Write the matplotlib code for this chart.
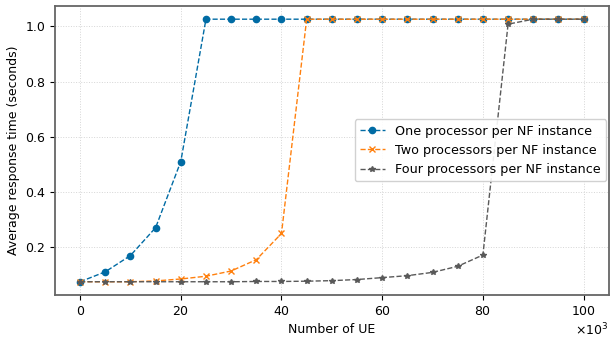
import numpy as np
import matplotlib.pyplot as plt

plt.style.use('tableau-colorblind10')
plt.rcParams['font.size'] = 9

# number of UE (in units of 1e3 after formatting)
num_ue = np.arange(0, 101, 5) * 1000

one_proc = [0.074, 0.110, 0.169, 0.270, 0.510, 1.026, 1.026, 1.026, 1.026, 1.026, 1.026,
            1.026, 1.026, 1.026, 1.026, 1.026, 1.026, 1.026, 1.026, 1.026, 1.026]
two_proc = [0.074, 0.074, 0.074, 0.077, 0.084, 0.094, 0.113, 0.154, 0.249, 1.026, 1.026,
            1.026, 1.026, 1.026, 1.026, 1.026, 1.026, 1.026, 1.026, 1.026, 1.026]
four_proc = [0.074, 0.074, 0.074, 0.074, 0.074, 0.074, 0.074, 0.075, 0.075, 0.076, 0.078,
             0.082, 0.089, 0.096, 0.108, 0.130, 0.171, 1.008, 1.026, 1.026, 1.026]

labels = ['One processor per NF instance',
          'Two processors per NF instance',
          'Four processors per NF instance']

fig, ax = plt.subplots(figsize=(6.1, 3.37), dpi=100)
fig.subplots_adjust(left=0.09, right=0.998, top=0.982, bottom=0.125)

ax.plot(num_ue, one_proc, '--o', color='#006BA4', markersize=4.5, linewidth=1, label=labels[0])
ax.plot(num_ue, two_proc, '--x', color='#FF800E', markersize=5, linewidth=1, label=labels[1])
ax.plot(num_ue, four_proc, '--*', color='#595959', markersize=4, linewidth=1, label=labels[2])

ax.set_xlabel('Number of UE')
ax.set_ylabel('Average response time (seconds)')
ax.set_xticks([0, 20000, 40000, 60000, 80000, 100000])
ax.set_yticks([0.2, 0.4, 0.6, 0.8, 1.0])
ax.ticklabel_format(axis='x', style='sci', scilimits=(3, 3), useMathText=True)
ax.grid(True, linestyle=':', color='#d5d5d5', linewidth=0.7)

for spine in ax.spines.values():
    spine.set_color('#666666')
    spine.set_linewidth(1.3)

ax.legend(loc='center right', bbox_to_anchor=(1.0, 0.5), borderaxespad=0.2,
          framealpha=0.9, prop={'size': 9.2})

fig.savefig('out.png')
